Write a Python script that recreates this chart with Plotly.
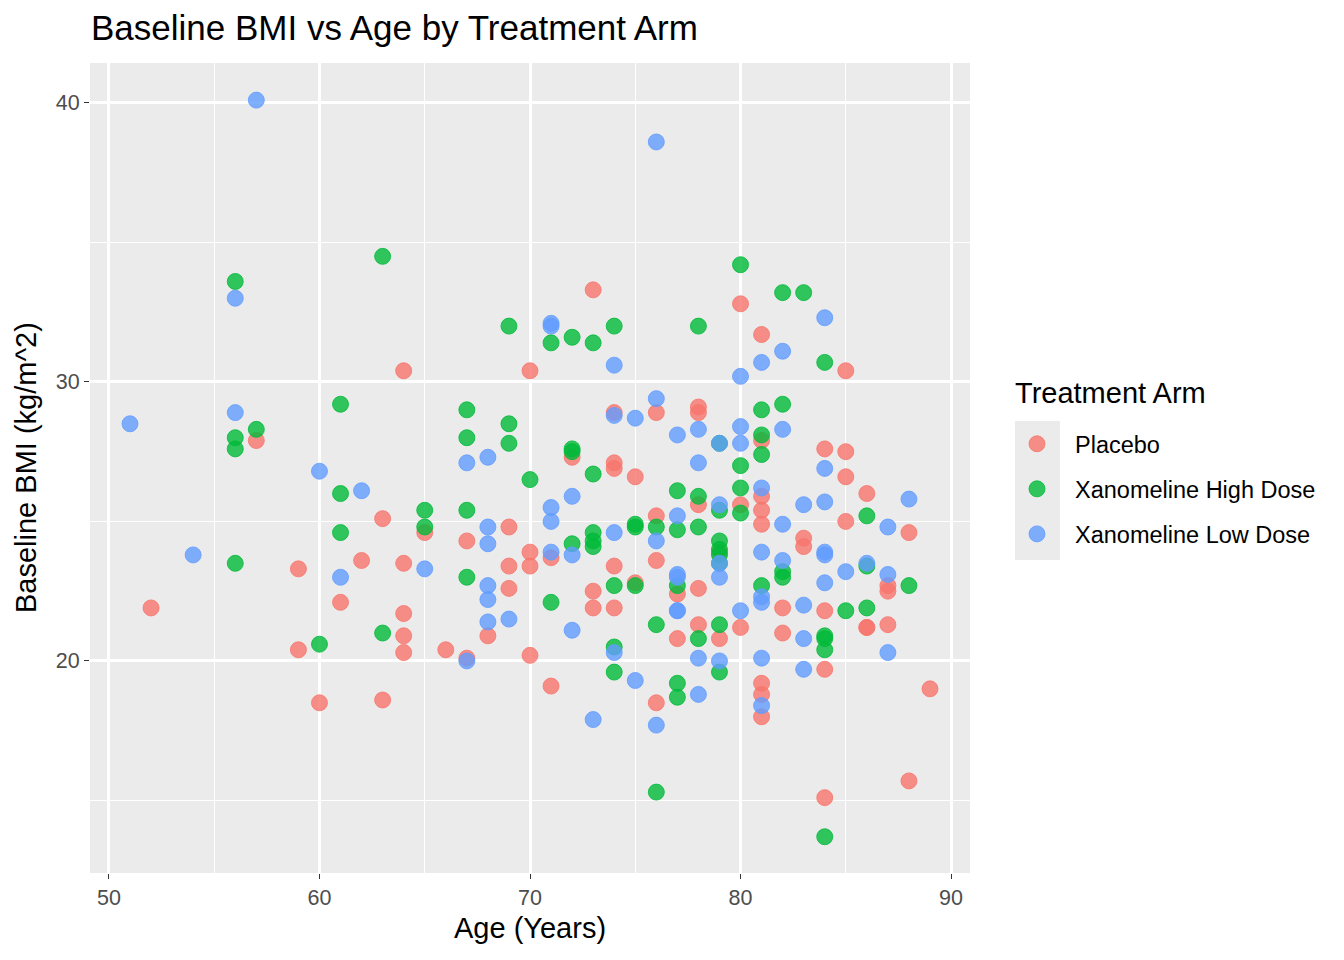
import plotly.graph_objects as go

# ---------------- data ----------------
arms = ["Placebo", "Xanomeline High Dose", "Xanomeline Low Dose"]
arm_colors = ["248,118,109", "0,186,56", "97,156,255"]

placebo_age = [52, 57, 59, 59, 60, 61, 62, 63, 63, 64, 64, 64, 64, 64, 65, 66, 67, 67, 68,
               69, 69, 69, 70, 70, 70, 70, 71, 71, 72, 73, 73, 73, 74, 74, 74, 74, 74, 75, 75,
               76, 76, 76, 76, 77, 77, 78, 78, 78, 78, 78, 79, 79, 80, 80, 80,
               81, 81, 81, 81, 81, 81, 81, 81, 82, 82, 83, 83, 84, 84, 84, 84,
               85, 85, 85, 85, 86, 86, 86, 87, 87, 87, 88, 88, 89]
placebo_bmi = [21.9, 27.9, 23.3, 20.4, 18.5, 22.1, 23.6, 25.1, 18.6, 30.4, 23.5, 21.7, 20.9, 20.3,
               24.6, 20.4, 24.3, 20.1, 20.9, 24.8, 23.4, 22.6, 30.4, 23.9, 23.4, 20.2, 23.7, 19.1,
               27.3, 33.3, 22.5, 21.9, 28.9, 27.1, 26.9, 23.4, 21.9, 26.6, 22.8,
               28.9, 25.2, 23.6, 18.5, 22.4, 20.8, 29.1, 28.9, 25.6, 22.6, 21.3, 23.9, 20.8,
               32.8, 25.6, 21.2, 31.7, 27.9, 25.9, 25.4, 24.9, 19.2, 18.8, 18.0, 21.9, 21.0,
               24.4, 24.1, 27.6, 21.8, 19.7, 15.1, 30.4, 27.5, 26.6, 25.0, 26.0, 21.2, 21.2,
               22.7, 22.5, 21.3, 24.6, 15.7, 19.0]

high_age = [56, 56, 56, 56, 57, 60, 61, 61, 61, 63, 63, 65, 65, 67, 67, 67, 67, 69, 69, 69, 70,
            71, 71, 72, 72, 72, 72, 73, 73, 73, 73, 73, 74, 74, 74, 74, 75, 75, 75, 76, 76, 76,
            77, 77, 77, 77, 77, 78, 78, 78, 78, 79, 79, 79, 79, 79, 79, 79, 79,
            80, 80, 80, 80, 81, 81, 81, 81, 82, 82, 82, 82, 83, 84, 84, 84, 84, 84,
            85, 86, 86, 86, 88]
high_bmi = [33.6, 28.0, 27.6, 23.5, 28.3, 20.6, 29.2, 26.0, 24.6, 34.5, 21.0, 25.4, 24.8,
            29.0, 28.0, 25.4, 23.0, 32.0, 28.5, 27.8, 26.5, 31.4, 22.1, 31.6, 27.6, 27.5, 24.2,
            31.4, 26.7, 24.6, 24.3, 24.1, 32.0, 22.7, 20.5, 19.6, 24.9, 24.8, 22.7, 24.8, 21.3,
            15.3, 26.1, 24.7, 22.7, 19.2, 18.7, 32.0, 25.9, 24.8, 20.8,
            27.8, 25.4, 24.3, 24.0, 23.8, 23.5, 21.3, 19.6, 34.2, 27.0, 26.2, 25.3,
            29.0, 28.1, 27.4, 22.7, 33.2, 29.2, 23.2, 23.0, 33.2, 30.7, 20.9, 20.8, 20.4, 13.7,
            21.8, 25.2, 23.4, 21.9, 22.7]

low_age = [51, 54, 56, 56, 57, 60, 61, 62, 65, 67, 67, 68, 68, 68, 68, 68, 68, 69,
           71, 71, 71, 71, 71, 72, 72, 72, 73, 74, 74, 74, 74, 75, 75, 76, 76, 76, 76,
           77, 77, 77, 77, 77, 77, 78, 78, 78, 78, 79, 79, 79, 79, 79, 80, 80, 80, 80,
           81, 81, 81, 81, 81, 81, 81, 82, 82, 82, 82, 83, 83, 83, 83,
           84, 84, 84, 84, 84, 84, 85, 86, 87, 87, 87, 88]
low_bmi = [28.5, 23.8, 33.0, 28.9, 40.1, 26.8, 23.0, 26.1, 23.3, 27.1, 20.0,
           27.3, 24.8, 24.2, 22.7, 22.2, 21.4, 21.5, 32.1, 32.0, 25.5, 25.0, 23.9,
           25.9, 23.8, 21.1, 17.9, 30.6, 28.8, 24.6, 20.3, 28.7, 19.3, 38.6, 29.4, 24.3, 17.7,
           28.1, 25.2, 23.1, 23.0, 21.8, 21.8, 28.3, 27.1, 20.1, 18.8,
           27.8, 25.6, 23.5, 23.0, 20.0, 30.2, 28.4, 27.8, 21.8,
           30.7, 26.2, 23.9, 22.3, 22.1, 20.1, 18.4, 31.1, 28.3, 24.9, 23.6,
           25.6, 22.0, 20.8, 19.7, 32.3, 26.9, 25.7, 23.9, 23.8, 22.8,
           23.2, 23.5, 24.8, 23.1, 20.3, 25.8]

x_ticks = [50, 60, 70, 80, 90]
y_ticks = [20, 30, 40]

series = [(placebo_age, placebo_bmi), (high_age, high_bmi), (low_age, low_bmi)]

FONT = "Liberation Sans, Arial, sans-serif"

fig = go.Figure()
for name, rgb, (ages, bmis) in zip(arms, arm_colors, series):
    fig.add_trace(go.Scatter(
        x=ages, y=bmis, mode="markers", name=name, legendgroup=name,
        marker=dict(size=16, color=f"rgba({rgb},0.8)",
                    line=dict(width=1, color=f"rgba({rgb},0.8)")),
    ))

W, H = 1344, 960
L, R, T, B = 90, 970, 63, 873

def px_x(p):
    return (p - L) / (R - L)

def px_y(p):
    return (B - p) / (B - T)

axis_common = dict(
    showgrid=True, gridcolor="white", gridwidth=2.6,
    minor=dict(showgrid=True, gridcolor="white", gridwidth=1.3, ticks=""),
    zeroline=False, showline=False,
    ticks="outside", ticklen=5, tickwidth=1.1, tickcolor="#333333",
    tickfont=dict(family=FONT, size=21.5, color="#4D4D4D"),
)

fig.update_layout(
    width=W, height=H,
    margin=dict(l=L, r=W - R, t=T, b=H - B),
    paper_bgcolor="white", plot_bgcolor="#EBEBEB",
    font=dict(family=FONT, color="black"),
    title=dict(text="Baseline BMI vs Age by Treatment Arm",
               font=dict(family=FONT, size=35, color="black"),
               xref="container", yref="container",
               x=91 / W, xanchor="left", y=1 - 28 / H, yanchor="middle"),
    xaxis=dict(range=[49.1, 90.9], tickvals=x_ticks, **axis_common),
    yaxis=dict(range=[12.4, 41.43], tickvals=y_ticks, **axis_common),
    legend=dict(
        font=dict(family=FONT, size=23.5, color="black"),
        x=px_x(999), xanchor="left", y=px_y(422), yanchor="top",
        bgcolor="rgba(0,0,0,0)", tracegroupgap=11.5, itemsizing="trace",
        itemwidth=66,
    ),
    annotations=[
        dict(text="Treatment Arm", xref="paper", yref="paper", x=px_x(1013), y=px_y(393),
             xanchor="left", yanchor="middle", showarrow=False,
             font=dict(family=FONT, size=29, color="black")),
        dict(text="Age (Years)", xref="paper", yref="paper", x=0.5, y=px_y(928),
             xanchor="center", yanchor="middle", showarrow=False,
             font=dict(family=FONT, size=29, color="black")),
        dict(text="Baseline BMI (kg/m^2)", xref="paper", yref="paper", x=px_x(26), y=0.5,
             xanchor="center", yanchor="middle", textangle=-90, showarrow=False,
             font=dict(family=FONT, size=29, color="black")),
    ],
    shapes=[
        dict(type="rect", xref="paper", yref="paper",
             x0=px_x(1015), x1=px_x(1060), y0=px_y(560), y1=px_y(421),
             fillcolor="#EBEBEB", line=dict(width=0), layer="below"),
    ],
)
fig.update_xaxes(minor=dict(tickvals=[55, 65, 75, 85]))
fig.update_yaxes(minor=dict(tickvals=[15, 25, 35]))

fig.write_html("out.html", config={"displayModeBar": False},
               post_script="document.body.style.margin='0';")
